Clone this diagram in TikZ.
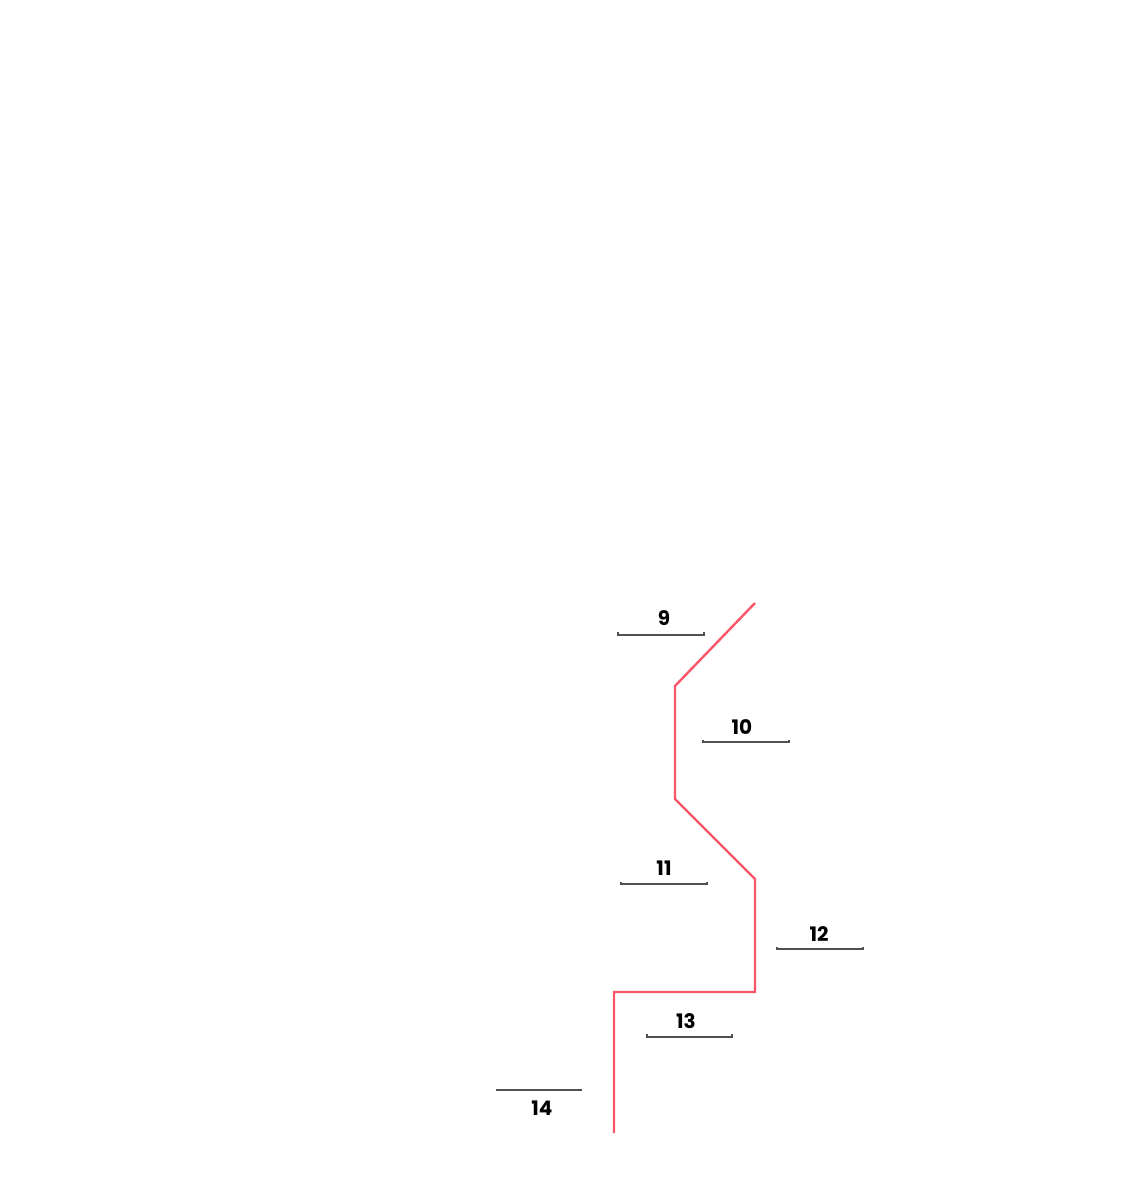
\documentclass[tikz,border=0pt]{standalone}
\usepackage{fontspec}
\setmainfont{Poppins}
\usetikzlibrary{positioning,calc}
\definecolor{routered}{RGB}{250,85,105}
\definecolor{bargray}{RGB}{80,80,80}

\begin{document}
\begin{tikzpicture}[
    x=0.5pt, y=-0.5pt,
    route/.style={draw=routered, line width=1.2pt, line join=miter},
    bar/.style={draw=bargray, line width=1.2pt},
    num/.style={font=\fontsize{10}{12}\selectfont\bfseries, inner sep=0pt},
]
\useasboundingbox (0,0) rectangle (1138,1201);

% route
\coordinate (r1) at (755,603);
\coordinate (r2) at (675,686);
\coordinate (r3) at (675,799);
\coordinate (r4) at (755,879);
\coordinate (r5) at (755,992);
\coordinate (r6) at (614,992);
\coordinate (r7) at (614,1133);
\draw[route] (r1) -- (r2) -- (r3) -- (r4) -- (r5) -- (r6) -- (r7);

% labels
\node[num] (n9)  at (664,618)  {9};
\node[num] (n10) at (742,727)  {10};
\node[num] (n11) at (664,868)  {11};
\node[num] (n12) at (819,934)  {12};
\node[num] (n13) at (686,1021) {13};
\node[num] (n14) at (542,1108) {14};

% bars
\draw[bar] (618,632) -- (618,635) -- (704,635) -- (704,632);
\draw[bar] (703,740) -- (703,742) -- (789,742) -- (789,740);
\draw[bar] (621,882) -- (621,884) -- (707,884) -- (707,882);
\draw[bar] (777,947) -- (777,949) -- (863,949) -- (863,947);
\draw[bar] (647,1034) -- (647,1037) -- (732,1037) -- (732,1034);
\draw[bar] (496,1090) -- (582,1090);

\end{tikzpicture}
\end{document}
